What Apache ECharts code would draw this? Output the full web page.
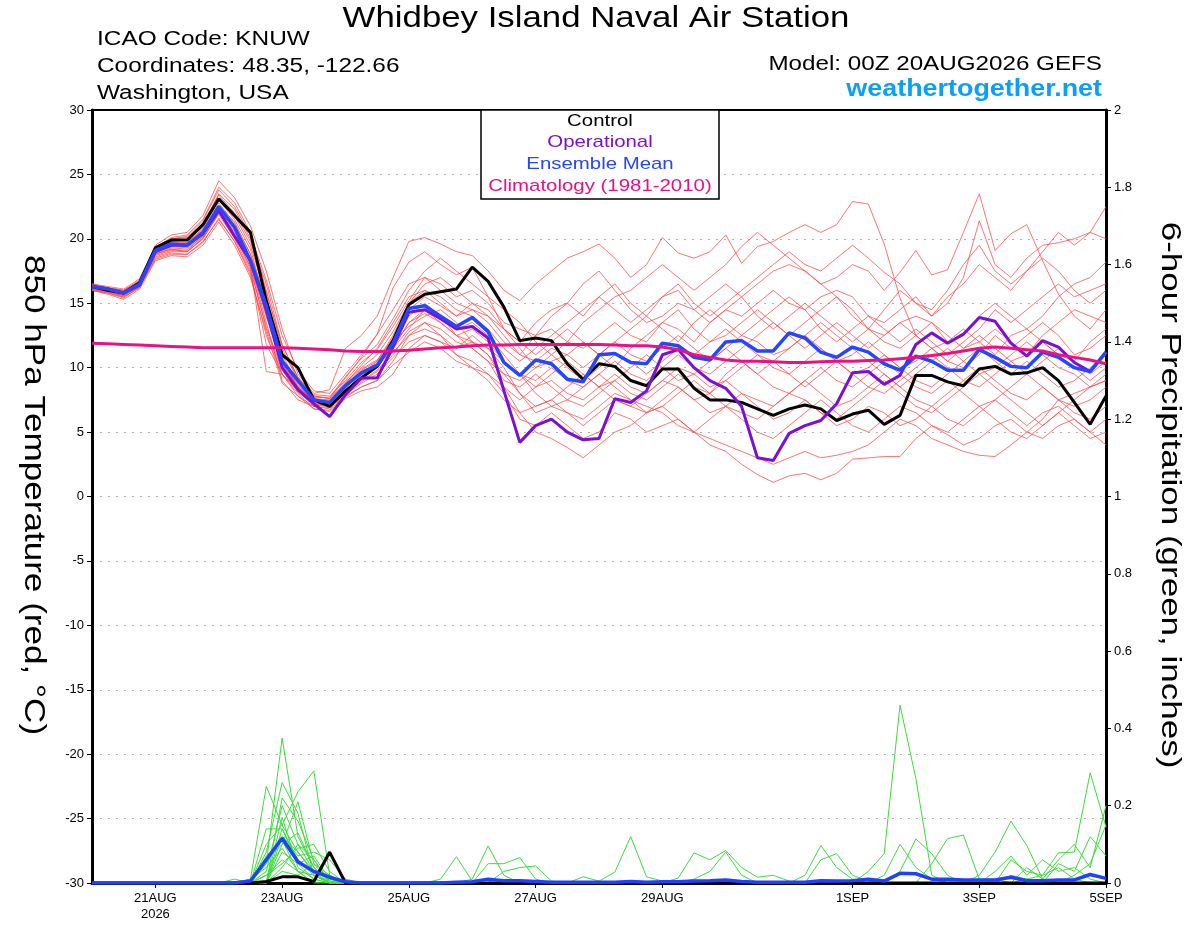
<!DOCTYPE html>
<html>
<head>
<meta charset="utf-8">
<script src="https://cdn.jsdelivr.net/npm/echarts@6/dist/echarts.min.js"></script>
<style>
	html, body {margin: 0; padding: 0; background: #fff;}
	#chart {width: 1200px; height: 927px;}
</style>
</head>
<body>
<div id="chart"></div>
<script>
// 6-hourly steps from 00Z 20AUG2026 to 00Z 5SEP2026 (65 steps)
const MON = ['JAN','FEB','MAR','APR','MAY','JUN','JUL','AUG','SEP','OCT','NOV','DEC'];
const startUTC = Date.UTC(2026, 7, 20, 0);
const categories = [];
for (let i = 0; i < 65; i++) {
	const d = new Date(startUTC + i * 6 * 3600 * 1000);
	categories.push(String(d.getUTCHours()).padStart(2, '0') + 'Z' + d.getUTCDate() + MON[d.getUTCMonth()]);
}

// x tick labels (index into categories)
const tickIndex = [4, 12, 20, 28, 36, 48, 56, 64];
const tickLabels = ['21AUG\n2026', '23AUG', '25AUG', '27AUG', '29AUG', '1SEP', '3SEP', '5SEP'];

// 850 hPa temperature, deg C
const control = [16.3,16.0,15.8,16.6,19.3, 19.9,19.9,21.1,23.1,21.8, 20.5,15.2,11.0,10.0,7.5, 7.0,8.2,9.2,10.1,12.1, 14.9,15.7,15.9,16.1,17.8, 16.7,14.7,12.1,12.3,12.1, 10.3,9.1,10.3,10.1,9.0, 8.6,9.9,9.9,8.4,7.5, 7.5,7.3,6.8,6.3,6.8, 7.1,6.8,5.9,6.4,6.7, 5.6,6.3,9.4,9.4,8.9, 8.6,9.9,10.1,9.5,9.6, 10.0,9.0,7.3,5.6,7.8];
const operational = [16.3,16.1,15.8,16.4,19.0, 19.5,19.5,20.4,22.2,20.2, 18.3,14.5,10.0,8.3,7.2, 6.2,7.9,9.2,9.2,11.6, 14.3,14.5,13.8,13.0,13.2, 12.3,8.2,4.2,5.5,6.0, 5.0,4.4,4.5,7.6,7.3, 8.2,11.0,11.4,10.0,9.0, 8.4,7.0,3.0,2.8,4.9, 5.5,5.9,7.2,9.6,9.7, 8.7,9.4,11.8,12.7,11.9, 12.6,13.9,13.6,11.9,10.9, 12.1,11.6,10.4,9.7,11.2];
const ensMean = [16.3,16.1,15.8,16.5,19.1, 19.6,19.5,20.5,22.5,20.9, 18.3,14.8,10.5,9.0,7.5, 7.3,8.6,9.6,10.2,11.9, 14.6,14.8,14.0,13.2,13.9, 12.8,10.4,9.4,10.6,10.3, 9.1,8.9,11.0,11.1,10.4, 10.3,11.9,11.7,10.8,10.6, 12.0,12.1,11.3,11.3,12.7, 12.3,11.2,10.8,11.6,11.2, 10.3,9.8,10.9,10.5,9.8, 9.8,11.4,10.8,10.1,10.0, 11.2,10.8,10.0,9.7,11.2];
const climatology = [11.9,11.85,11.8,11.75,11.7, 11.65,11.6,11.55,11.55,11.55, 11.55,11.55,11.55,11.5,11.45, 11.4,11.3,11.25,11.25,11.3, 11.35,11.45,11.55,11.6,11.7, 11.75,11.75,11.8,11.8,11.8, 11.8,11.8,11.8,11.75,11.7, 11.7,11.6,11.4,11.0,10.8, 10.6,10.5,10.5,10.45,10.4, 10.4,10.45,10.5,10.5,10.55, 10.6,10.7,10.8,10.95,11.1, 11.3,11.5,11.6,11.5,11.4, 11.3,11.0,10.8,10.6,10.3];

const ens01 = [16.4,16.2,16.0,16.8,19.5, 20.3,20.5,21.8,24.5,23.2, 21.0,17.5,13.0,9.5,8.0, 8.3,11.5,12.5,14.0,17.0, 19.8,20.1,19.6,19.0,18.7, 17.5,16.0,15.2,16.5,17.5, 18.5,19.0,19.6,18.5,17.0, 18.0,20.1,18.9,18.5,19.0, 20.3,18.1,19.4,19.8,20.5, 21.1,20.5,21.1,22.9,22.7, 19.6,15.4,12.5,11.5,12.0, 13.0,12.0,11.0,12.5,13.0, 12.0,11.0,10.5,12.0,13.0];
const ens02 = [16.2,16.0,15.7,16.5,19.2, 19.9,19.9,21.0,23.5,22.3, 20.0,16.5,11.8,9.2,7.8, 7.6,9.2,10.8,12.6,16.2, 18.2,19.0,18.0,17.2,17.8, 15.5,13.0,12.0,13.5,14.5, 15.0,14.0,15.5,16.5,15.0, 14.0,15.5,16.0,14.5,13.5, 14.5,15.5,16.5,17.5,18.0, 17.5,16.5,17.0,18.0,17.5, 16.0,17.4,19.1,17.2,17.6, 20.5,23.5,19.1,20.4,21.1, 18.3,15.7,14.0,13.0,14.5];
const ens03 = [16.0,15.8,15.5,16.2,18.8, 19.2,19.0,20.0,22.0,21.0, 18.5,14.0,10.0,8.5,7.2, 7.0,8.2,9.5,10.5,12.5, 15.0,16.5,17.0,16.0,15.0, 14.5,13.0,11.5,10.0,10.5, 11.0,12.0,11.0,10.0,11.5, 12.5,13.5,13.0,12.0,13.5, 14.5,14.0,15.0,16.0,15.0, 14.5,15.5,16.0,15.5,14.0, 13.5,14.5,15.5,14.0,15.0, 17.0,21.4,18.0,17.0,18.5, 19.5,19.7,20.0,20.5,22.5];
const ens04 = [16.1,15.8,15.4,16.3,18.5, 18.9,18.8,19.8,21.5,19.8, 17.2,12.5,9.5,8.0,6.8, 6.6,7.6,8.2,8.5,9.5, 11.5,12.5,12.0,11.0,10.5, 9.5,8.0,6.0,5.5,6.5, 5.5,4.5,5.0,6.5,6.0, 5.0,5.5,6.0,5.0,4.0, 3.5,2.5,1.7,1.1,1.6, 1.8,1.3,1.8,2.9,3.0, 3.1,3.1,4.5,5.5,4.8, 4.0,4.5,5.5,6.0,5.0, 4.5,5.5,6.0,5.0,6.0];
const ens05 = [16.3,16.0,15.8,16.5,19.0, 19.5,19.5,20.5,22.5,21.0, 18.0,13.5,9.0,7.5,7.0, 6.8,7.8,8.5,9.0,10.5, 12.5,13.5,13.0,12.0,11.5, 10.5,8.5,6.5,5.0,4.5, 3.8,3.0,4.0,5.0,5.5, 6.5,7.0,6.0,5.0,4.5, 4.0,3.5,3.0,2.5,3.0, 3.5,3.0,3.2,3.5,4.0, 5.0,6.0,5.5,4.5,4.0, 3.5,3.2,3.1,4.0,5.0, 6.0,7.5,8.0,8.5,9.5];
const ens06 = [16.2,15.9,15.6,16.4,18.9, 19.4,19.3,20.3,22.4,20.6, 18.2,14.2,10.2,8.6,7.4, 7.2,8.4,9.6,10.2,11.6, 13.5,14.5,13.5,12.5,13.0, 12.0,10.5,9.5,8.5,9.0, 8.0,7.5,8.5,9.5,8.5, 8.0,9.0,10.0,9.5,8.5, 9.0,10.0,11.0,10.0,9.5, 10.5,11.5,10.5,9.5,10.0, 11.0,10.0,9.0,8.5,9.5, 10.5,11.5,10.5,9.5,10.5, 9.5,8.5,9.0,10.0,11.0];
const ens07 = [16.5,16.3,16.1,16.9,19.4, 20.0,20.2,21.4,23.8,22.5, 20.3,16.8,12.5,9.8,8.2, 8.0,9.5,11.0,12.6,14.5, 16.5,17.0,16.5,15.5,16.0, 15.0,13.5,13.0,12.5,13.0, 12.0,11.5,12.5,13.5,12.5, 12.0,13.5,14.5,13.0,12.0, 12.5,13.5,14.5,13.5,12.5, 13.5,14.5,15.5,14.0,13.0, 12.5,13.5,14.0,13.5,12.0, 12.5,14.0,15.0,14.0,13.0, 14.0,15.5,16.5,17.0,18.2];
const ens08 = [16.0,15.7,15.3,16.1,18.3, 18.7,18.6,19.5,21.3,19.5, 17.0,12.8,8.8,7.8,7.0, 7.3,8.6,9.8,10.5,12.0, 13.2,14.0,14.5,13.5,12.0, 11.0,9.5,8.0,7.0,7.5, 8.5,9.5,8.5,7.5,7.0, 8.0,9.0,8.5,7.5,8.0, 9.5,10.5,9.5,8.5,8.0, 9.0,8.0,7.0,7.5,8.5, 9.5,8.5,7.5,7.0,8.0, 9.0,10.0,9.0,8.0,7.5, 8.5,7.5,6.5,6.0,7.0];
const ens09 = [16.3,16.1,15.9,16.7,19.2, 19.8,19.9,20.9,23.1,21.8, 19.5,15.5,11.0,8.8,7.6, 7.5,8.8,10.2,11.5,13.5, 15.5,16.0,15.0,14.0,14.5, 13.5,12.0,11.0,12.5,14.0, 15.0,16.5,17.5,16.0,14.5, 13.5,14.0,15.0,14.5,15.5, 16.5,15.5,14.0,13.0,14.0, 15.0,14.0,13.0,12.0,13.0, 14.5,16.0,15.0,14.0,15.5, 16.5,18.0,17.0,16.0,17.5, 18.5,17.5,16.0,15.0,16.0];
const ens10 = [16.1,15.9,15.6,16.3,18.6, 19.0,19.0,20.0,22.0,20.3, 17.8,13.0,9.5,8.2,7.0, 6.9,7.9,8.8,9.5,10.8, 12.0,12.5,12.0,11.5,12.5, 11.5,10.0,8.0,6.5,7.0, 6.5,5.5,6.5,7.5,7.0, 6.5,7.5,8.5,7.5,6.5, 7.0,8.0,7.0,6.0,6.5, 7.5,6.5,5.5,6.0,7.0, 6.5,5.5,6.0,7.0,6.0, 5.5,6.5,7.5,6.5,5.5, 6.5,7.0,6.0,5.0,4.0];
const ens11 = [16.4,16.1,15.9,16.6,19.3, 19.7,19.6,20.6,22.8,21.2, 18.8,15.0,10.8,8.4,7.5, 7.4,8.8,9.9,10.6,12.3, 14.5,15.5,14.8,14.0,15.0, 14.0,12.5,11.0,10.5,11.5, 11.0,10.0,11.0,12.0,11.0, 10.5,11.5,12.5,11.5,10.5, 11.5,12.5,12.0,11.0,11.5, 12.5,11.5,10.5,11.0,12.0, 11.0,10.0,10.5,11.5,10.5, 10.0,11.0,12.5,11.5,12.5, 13.5,12.5,11.0,11.5,12.5];
const ens12 = [16.2,16.0,15.7,16.5,19.0, 19.6,19.7,20.7,22.6,21.3, 18.8,15.2,11.2,9.3,7.8, 7.6,8.9,10.0,11.0,12.8, 15.0,16.0,15.5,14.5,14.0, 13.0,11.5,10.5,11.5,12.5, 13.5,14.5,15.5,14.5,13.5, 14.5,15.5,16.5,15.0,14.0, 15.0,16.0,17.0,18.0,19.0, 18.0,17.5,18.5,19.5,18.5, 17.4,16.5,15.0,14.5,16.0, 18.0,19.5,17.5,16.5,17.5, 19.0,20.5,19.5,20.5,20.0];
const ens13 = [16.3,16.0,15.8,16.4,18.8, 19.3,19.2,20.2,22.2,20.5, 18.0,14.0,10.5,8.7,7.3, 7.1,8.3,9.3,10.0,11.5, 13.0,14.5,14.0,12.5,11.5, 10.5,9.5,9.0,10.0,11.0, 10.0,9.0,10.0,11.0,10.5, 9.5,10.5,11.5,11.0,12.0, 13.0,12.0,11.0,10.5,11.5, 12.5,13.5,12.5,11.5,10.5, 9.5,8.5,9.5,10.5,11.5, 10.5,9.5,10.0,11.0,12.0, 11.0,10.0,9.5,8.5,9.0];
const ens14 = [16.5,16.2,16.0,16.7,19.3, 20.1,20.3,21.5,24.0,22.8, 20.5,16.0,11.5,9.0,7.7, 7.7,9.3,10.7,11.8,13.8, 16.0,17.5,18.5,17.5,16.5, 15.5,14.5,13.5,12.0,11.0, 12.0,13.5,14.5,15.5,16.0, 17.0,18.0,17.0,16.0,17.0, 18.0,19.4,20.5,19.5,18.5, 17.5,16.5,15.5,14.5,13.0, 12.0,11.5,12.5,13.5,12.5, 11.5,12.0,13.0,12.0,11.0, 12.5,13.5,14.5,14.0,13.5];
const ens15 = [16.0,15.8,15.5,16.2,18.4, 18.8,18.8,19.7,21.6,19.8, 17.4,11.8,9.5,7.8,6.8, 6.7,7.7,8.5,9.0,10.2, 11.2,12.0,11.5,10.5,10.0, 9.0,7.5,6.5,7.0,7.5, 6.5,6.0,7.0,8.0,7.5, 7.0,6.5,5.5,5.0,6.0, 7.0,6.0,5.0,4.5,5.5, 6.5,7.5,6.5,5.5,5.0, 6.0,7.0,6.5,5.5,5.0, 6.0,7.0,6.0,5.0,4.5, 5.5,6.5,5.5,4.5,5.0];
const ens16 = [16.3,16.1,15.9,16.6,19.1, 19.7,19.7,20.8,23.0,21.5, 19.2,14.8,10.5,8.5,7.4, 7.2,8.6,9.7,10.3,11.8, 14.0,15.0,14.0,13.0,13.5, 12.5,11.0,9.5,9.0,10.0, 9.0,8.5,9.5,10.5,9.5, 9.0,10.0,11.0,10.0,9.5, 10.5,11.5,12.5,13.5,12.5, 11.5,12.5,13.5,12.5,11.5, 12.5,13.5,12.5,11.5,10.5, 11.5,12.5,11.5,10.5,11.0, 12.0,11.0,10.0,9.0,10.0];
const ens17 = [16.2,15.9,15.6,16.3,18.7, 19.1,19.0,20.1,21.9,20.0, 17.6,13.2,9.8,8.1,7.1, 7.0,8.0,8.9,9.7,11.0, 12.8,13.5,12.5,11.5,12.0, 11.0,9.0,8.5,9.5,8.5, 7.5,7.0,8.0,9.0,8.0, 7.5,8.5,9.5,8.5,8.0, 9.0,8.0,7.5,7.0,8.0, 9.0,10.0,9.0,8.5,9.5, 10.5,9.5,8.5,8.0,9.0, 8.0,7.0,7.5,8.5,9.5, 8.5,7.5,7.0,7.5,8.5];
const ens18 = [16.4,16.2,16.0,16.7,19.4, 20.0,20.1,21.2,23.4,22.0, 19.8,15.8,11.8,9.2,7.9, 7.8,9.0,10.4,11.4,13.2, 15.2,17.0,16.0,15.0,14.5, 14.0,13.0,12.0,11.0,12.0, 13.0,12.0,11.0,12.0,13.0, 14.0,13.0,12.0,13.5,14.5, 13.5,12.5,13.5,14.5,15.5, 14.5,13.0,12.0,13.0,14.0, 13.0,12.0,13.0,12.0,11.0, 12.0,13.0,14.5,13.5,14.5, 15.5,16.5,15.5,16.0,16.5];
const ens19 = [16.1,15.9,15.7,16.4,18.8, 19.2,19.1,20.2,22.1,20.2, 17.8,9.7,9.5,8.3,7.2, 7.2,8.1,9.0,9.8,11.2, 12.5,13.0,12.5,11.0,10.0, 9.5,8.5,7.5,8.5,9.5, 10.5,9.5,8.5,9.0,10.0, 11.0,10.0,9.0,9.5,10.5, 11.5,10.5,9.5,10.5,9.5, 8.5,9.5,10.5,9.5,8.5, 8.0,9.0,10.0,11.0,10.0, 9.0,8.5,9.5,10.5,9.5, 10.5,11.5,10.5,9.5,10.5];
const ens20 = [16.3,16.1,15.8,16.5,18.9, 19.5,19.4,20.4,22.6,20.8, 18.4,14.5,10.3,8.5,7.4, 7.3,8.5,9.4,10.2,11.5, 13.5,14.2,13.5,12.5,12.0, 11.5,10.5,9.5,8.0,7.0, 7.5,8.5,9.5,8.5,7.5, 6.5,7.0,8.0,9.0,8.0, 7.0,6.5,6.0,7.0,8.0, 7.5,6.5,6.0,7.0,8.0, 9.0,8.0,7.0,6.5,7.5, 8.5,9.5,8.5,7.5,6.5, 5.5,6.5,7.5,8.5,9.0];

// 6-hour precipitation, inches
const pcpControl = [0,0,0,0,0, 0,0,0,0,0, 0,0.004,0.016,0.016,0.004, 0.08,0,0,0,0, 0,0,0,0,0, 0,0,0,0,0, 0,0,0,0,0, 0,0,0,0,0, 0,0,0,0,0, 0,0,0,0,0, 0,0,0,0,0, 0,0,0,0,0, 0,0,0,0,0];
const pcpMean = [0,0,0,0,0, 0,0,0,0,0, 0.005,0.06,0.116,0.055,0.03, 0.015,0.003,0,0,0, 0,0,0,0.002,0.003, 0.01,0.006,0.006,0.004,0.002, 0.002,0.002,0.002,0.002,0.004, 0.002,0.003,0.003,0.005,0.006, 0.008,0.004,0.002,0.002,0.002, 0.002,0.006,0.005,0.006,0.01, 0.005,0.025,0.024,0.01,0.01, 0.008,0.008,0.008,0.015,0.006, 0.006,0.008,0.008,0.022,0.012];

const pcp01 = [0,0,0,0,0, 0,0,0,0,0, 0.01,0.25,0.15,0.08,0.03, 0.01,0,0,0,0, 0,0,0.01,0.068,0.005, 0,0,0,0,0, 0,0,0,0,0, 0,0,0,0,0, 0,0,0,0,0, 0,0,0,0,0, 0,0,0,0,0, 0,0,0,0,0, 0,0,0,0,0];
const pcp02 = [0,0,0,0,0, 0,0,0,0,0, 0.005,0.05,0.375,0.12,0.04, 0.005,0,0,0,0, 0,0,0,0,0.01, 0.096,0.02,0,0,0, 0,0,0,0,0, 0,0,0,0,0, 0,0,0,0,0, 0,0,0,0,0, 0,0,0,0,0, 0,0,0,0,0, 0,0,0,0,0];
const pcp03 = [0,0,0,0,0, 0,0,0,0,0, 0,0.1,0.15,0.236,0.29, 0.02,0,0,0,0, 0,0,0,0,0, 0.05,0.05,0.066,0.01,0, 0,0,0,0,0, 0,0,0,0,0, 0,0,0,0,0, 0,0,0,0,0, 0,0,0,0,0, 0,0,0,0,0, 0,0,0,0,0];
const pcp04 = [0,0,0,0,0, 0,0,0,0,0, 0,0.14,0.14,0.05,0.01, 0,0,0,0,0, 0,0,0,0,0, 0,0.03,0.04,0.044,0.005, 0,0,0,0,0, 0,0,0,0,0, 0,0,0,0,0, 0,0,0,0,0, 0,0,0,0,0, 0,0,0,0,0, 0,0,0,0,0];
const pcp05 = [0,0,0,0,0, 0,0,0,0,0, 0,0,0.22,0.16,0.06, 0.005,0,0,0,0, 0,0,0,0,0, 0,0,0,0,0, 0,0.016,0.005,0.028,0.12, 0.016,0.005,0,0,0, 0,0,0,0,0, 0,0,0,0,0, 0,0,0,0,0, 0,0,0,0,0, 0,0,0,0,0];
const pcp06 = [0,0,0,0,0, 0,0,0,0,0, 0,0.08,0.26,0.18,0.02, 0,0,0,0,0, 0,0,0,0,0, 0,0,0,0,0, 0,0,0,0,0, 0,0,0.013,0.078,0.06, 0.084,0.04,0.015,0.02,0.005, 0,0,0,0,0, 0,0,0,0,0, 0,0,0,0,0, 0,0,0,0,0];
const pcp07 = [0,0,0,0,0, 0,0,0,0,0, 0,0,0.12,0.07,0.08, 0.06,0.01,0,0,0, 0,0,0,0,0, 0,0,0,0,0, 0,0,0,0,0, 0,0,0,0.01,0.03, 0.08,0.02,0,0,0, 0,0,0,0,0, 0,0,0,0,0, 0,0,0,0,0, 0,0,0,0,0];
const pcp08 = [0,0,0,0,0, 0,0,0,0,0, 0,0.06,0.1,0.21,0.05, 0,0,0,0,0, 0,0,0,0,0, 0,0,0,0,0, 0,0,0,0,0, 0,0,0,0,0, 0,0,0,0,0, 0.02,0.097,0.04,0.01,0, 0,0,0,0,0, 0,0,0,0,0, 0,0,0,0,0];
const pcp09 = [0,0,0,0,0, 0,0,0,0,0, 0,0,0.08,0.05,0.07, 0.01,0,0,0,0, 0,0,0,0,0, 0,0,0,0,0, 0,0,0,0,0, 0,0,0,0,0, 0,0,0,0,0, 0,0.06,0.076,0.02,0.005, 0,0,0,0,0, 0,0,0,0.02,0.01, 0.02,0.04,0.01,0,0];
const pcp10 = [0,0,0,0,0, 0,0,0,0,0, 0.01,0.04,0.09,0.03,0, 0,0,0,0,0, 0,0,0,0,0, 0,0,0,0,0, 0,0,0,0,0, 0,0,0,0,0, 0,0,0,0,0, 0,0,0,0,0.03, 0.076,0.46,0.27,0.02,0, 0,0,0,0,0, 0,0,0,0,0];
const pcp11 = [0,0,0,0,0, 0,0,0,0,0, 0,0.03,0.2,0.1,0.03, 0,0,0,0,0, 0,0,0,0,0, 0,0,0,0,0, 0,0,0,0,0, 0,0,0,0,0, 0,0,0,0,0, 0,0,0,0,0, 0,0.03,0.114,0.076,0.02, 0,0,0,0,0.01, 0,0,0,0,0];
const pcp12 = [0,0,0,0,0, 0,0,0,0,0, 0,0,0.14,0.06,0.02, 0,0,0,0,0, 0,0,0,0,0, 0,0,0,0,0, 0,0,0,0,0, 0,0,0,0,0, 0,0,0,0,0, 0,0,0,0,0, 0,0,0,0.05,0.115, 0.124,0.01,0,0,0, 0,0,0,0,0];
const pcp13 = [0,0,0,0,0, 0,0,0,0,0, 0,0.02,0.05,0.09,0.1, 0.03,0,0,0,0, 0,0,0,0,0, 0,0,0,0,0, 0,0,0,0,0, 0,0,0,0,0, 0,0,0,0,0, 0,0,0,0,0, 0,0,0,0,0, 0,0.02,0.08,0.16,0.097, 0.01,0,0,0,0];
const pcp14 = [0,0,0,0,0, 0,0,0,0,0, 0,0,0.17,0.04,0.01, 0,0,0,0,0, 0,0,0,0,0, 0,0,0,0,0, 0,0,0,0,0, 0,0,0,0,0, 0,0,0,0,0, 0,0,0,0,0, 0,0,0,0,0, 0,0,0,0.06,0.03, 0.02,0.078,0.08,0.285,0.145];
const pcp15 = [0,0,0,0,0, 0,0,0,0,0, 0,0.02,0.06,0.03,0.02, 0,0,0,0,0, 0,0,0,0,0, 0,0,0,0,0, 0,0,0,0,0, 0,0,0,0,0, 0,0,0,0,0, 0,0,0,0,0, 0,0,0,0,0, 0,0,0,0,0, 0,0.05,0.03,0.12,0.07];
const pcp16 = [0,0,0,0,0, 0,0,0,0,0, 0,0,0.1,0.13,0.04, 0,0,0,0,0, 0,0,0,0,0, 0,0,0,0,0, 0,0,0,0,0, 0,0,0,0,0, 0,0,0,0,0, 0,0,0,0,0, 0,0,0,0,0, 0,0,0.03,0.07,0.02, 0.06,0.03,0.04,0.01,0];
const pcp17 = [0,0,0,0,0, 0,0,0,0,0, 0,0,0.03,0.02,0.05, 0.02,0,0,0,0, 0,0,0,0,0, 0,0,0,0,0, 0,0,0,0,0, 0,0,0,0,0, 0,0,0,0,0, 0,0,0,0,0, 0.02,0.1,0.04,0.01,0, 0,0,0,0,0, 0,0,0,0,0];
const pcp18 = [0,0,0,0,0, 0,0,0,0,0, 0,0.05,0.12,0.08,0.025, 0,0,0,0,0, 0,0,0,0,0, 0,0,0,0,0, 0,0,0,0,0, 0,0,0,0,0, 0,0,0,0,0, 0,0,0,0,0, 0,0,0,0,0, 0,0,0,0,0, 0,0,0.02,0.05,0.15];
const pcp19 = [0,0,0,0,0, 0,0,0,0,0, 0,0,0.04,0.1,0.06, 0,0,0,0,0, 0,0,0,0,0, 0,0,0,0,0, 0,0,0,0,0, 0,0,0,0,0, 0,0,0,0,0, 0,0,0,0,0, 0,0,0,0,0, 0,0,0,0,0.04, 0.01,0.06,0.1,0.04,0.2];
const pcp20 = [0,0,0,0,0, 0,0,0,0,0.01, 0,0.07,0.11,0.03,0, 0,0,0,0,0, 0,0,0,0,0, 0,0,0,0,0, 0,0,0,0,0, 0,0,0,0,0, 0,0,0,0,0, 0,0,0,0,0, 0,0,0,0,0, 0,0.01,0.01,0,0, 0,0,0,0,0];

const tempMembers = [ens01, ens02, ens03, ens04, ens05, ens06, ens07, ens08, ens09, ens10,
	ens11, ens12, ens13, ens14, ens15, ens16, ens17, ens18, ens19, ens20];
const pcpMembers = [pcp01, pcp02, pcp03, pcp04, pcp05, pcp06, pcp07, pcp08, pcp09, pcp10,
	pcp11, pcp12, pcp13, pcp14, pcp15, pcp16, pcp17, pcp18, pcp19, pcp20];

const FONT = '"Liberation Sans", Arial, Helvetica, sans-serif';
const chart = echarts.init(document.getElementById('chart'), null, {renderer: 'canvas'});

const isTick = (idx) => tickIndex.indexOf(idx) >= 0;
const line = (data, color, width, axis, z) => ({
	type: 'line',
	data: data,
	yAxisIndex: axis,
	symbol: 'none',
	silent: true,
	z: z,
	lineStyle: {color: color, width: width},
	emphasis: {disabled: true}
});

let series = [];
tempMembers.forEach(m => series.push(line(m, 'rgba(255,70,70,0.75)', 1, 0, 2)));
pcpMembers.forEach(m => series.push(line(m, '#3cdc3c', 1, 1, 3)));
series.push(line(pcpControl, '#000000', 3, 1, 4));
series.push(line(pcpMean, '#2040ff', 3.5, 1, 5));
series.push(line(control, '#000000', 3, 0, 6));
series.push(line(operational, '#7a0fd6', 3, 0, 7));
series.push(line(ensMean, '#2446ff', 3.5, 0, 8));
series.push(line(climatology, '#ee0f84', 3, 0, 9));

// the reference font is a wide Helvetica; stretch the text horizontally
const text = (x, y, str, opt) => ({
	type: 'text', x: x, y: y, z: 100,
	rotation: opt.rotation || 0,
	scaleX: opt.stretch || 1,
	style: {
		text: str, fill: opt.color || '#000',
		font: (opt.weight || 'normal') + ' ' + opt.size + 'px ' + FONT,
		textAlign: opt.align || 'left', textVerticalAlign: 'middle'
	}
});

const option = {
	animation: false,
	backgroundColor: '#ffffff',
	grid: {left: 92, right: 94, top: 110, bottom: 44, show: true, borderColor: '#000', borderWidth: 2, backgroundColor: 'transparent'},
	xAxis: {
		type: 'category',
		data: categories,
		boundaryGap: false,
		axisLine: {onZero: false, lineStyle: {color: '#000', width: 3}},
		axisTick: {show: true, interval: (idx) => isTick(idx), length: 5, lineStyle: {color: '#000', width: 1}},
		axisLabel: {
			interval: (idx) => isTick(idx),
			formatter: (v, idx) => tickLabels[tickIndex.indexOf(idx)] || '',
			color: '#000', fontSize: 13, fontFamily: FONT, lineHeight: 16, margin: 7
		},
		splitLine: {show: false}
	},
	yAxis: [
		{
			type: 'value', min: -30, max: 30, interval: 5, position: 'left',
			axisLine: {show: true, lineStyle: {color: '#000', width: 3}},
			axisTick: {show: true, length: 5, lineStyle: {color: '#000', width: 1}},
			axisLabel: {color: '#000', fontSize: 13, fontFamily: FONT, margin: 8},
			splitLine: {show: true, showMinLine: false, showMaxLine: false, lineStyle: {color: '#b0b0b0', width: 1.2, type: [2, 6]}}
		},
		{
			type: 'value', min: 0, max: 2, interval: 0.2, position: 'right',
			axisLine: {show: true, lineStyle: {color: '#000', width: 3}},
			axisTick: {show: true, length: 5, lineStyle: {color: '#000', width: 1}},
			axisLabel: {color: '#000', fontSize: 13, fontFamily: FONT, margin: 8, formatter: (v) => String(+v.toFixed(1))},
			splitLine: {show: false}
		}
	],
	graphic: [
		text(596, 19, 'Whidbey Island Naval Air Station', {size: 29, align: 'center', stretch: 1.2}),
		text(97, 39, 'ICAO Code: KNUW', {size: 20, stretch: 1.22}),
		text(97, 66, 'Coordinates: 48.35, -122.66', {size: 20, stretch: 1.22}),
		text(97, 93, 'Washington, USA', {size: 20, stretch: 1.22}),
		text(1102, 64, 'Model: 00Z 20AUG2026 GEFS', {size: 20, align: 'right', stretch: 1.21}),
		text(1102, 90, 'weathertogether.net', {size: 23, align: 'right', weight: 'bold', color: '#0aa0f5', stretch: 1.17}),
		text(33, 495, '850 hPa Temperature (red, \u00B0C)', {size: 29, align: 'center', rotation: -Math.PI / 2, stretch: 1.21}),
		text(1170, 495, '6-hour Precipitation (green, inches)', {size: 28, align: 'center', rotation: -Math.PI / 2, stretch: 1.25}),
		{
			type: 'rect', z: 99,
			shape: {x: 481, y: 110, width: 238, height: 89},
			style: {fill: '#fff', stroke: '#000', lineWidth: 1.5}
		},
		text(600, 121, 'Control', {size: 17, align: 'center', stretch: 1.2}),
		text(600, 142, 'Operational', {size: 17, align: 'center', color: '#7a0fd6', stretch: 1.2}),
		text(600, 164, 'Ensemble Mean', {size: 17, align: 'center', color: '#2446ff', stretch: 1.2}),
		text(600, 186, 'Climatology (1981-2010)', {size: 17, align: 'center', color: '#ee0f84', stretch: 1.2})
	],
	series: series
};

chart.setOption(option);
</script>
</body>
</html>
